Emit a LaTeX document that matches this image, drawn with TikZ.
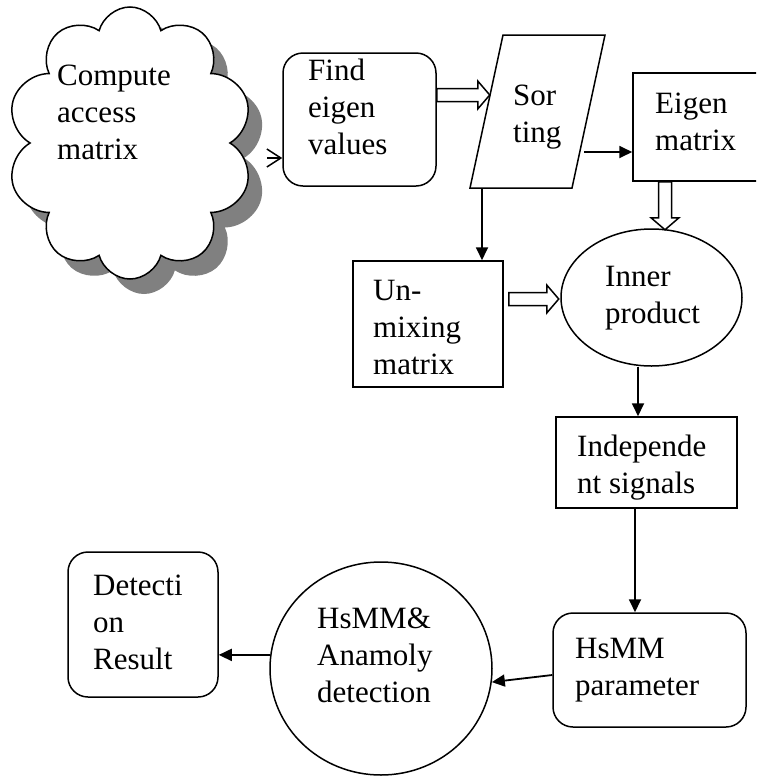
\documentclass[tikz,border=0pt]{standalone}
\usepackage{fontspec}
\setmainfont{Liberation Serif}
\usetikzlibrary{shapes.symbols,shapes.geometric,shadows,arrows.meta,positioning}

\newcommand{\hollowarrow}[1]{\draw[fill=white, line width=1.5pt] (0,-6.5) -- (#1-12,-6.5) -- (#1-12,-14) -- (#1,0) -- (#1-12,14) -- (#1-12,6.5) -- (0,6.5) -- cycle;}

\begin{document}
\begin{tikzpicture}[x=1pt, y=-1pt,
	sbox/.style={draw, fill=white, line width=1.5pt, inner sep=0pt},
	rbox/.style={sbox, rounded corners=20pt},
	oval/.style={sbox, ellipse},
	txt/.style={anchor=base west, align=left, inner sep=0pt, font=\fontsize{31}{37}\selectfont},
	arr/.style={-{Triangle[length=13pt, width=12pt]}, line width=1.8pt}]

	\useasboundingbox (0,0) rectangle (756,777);
	\clip (0,0) rectangle (756,777);

	\node[cloud, cloud puffs=10, cloud puff arc=150, aspect=0.9, sbox, minimum width=246pt, minimum height=272pt,
		drop shadow={shadow xshift=14pt, shadow yshift=-15pt, fill=black!50, opacity=1}] (access) at (130,143) {};

	\node[rbox, minimum width=153pt, minimum height=133pt] (find) at (359.5,119.5) {};

	\coordinate (sortTL) at (503,35);
	\coordinate (sortTR) at (605,35);
	\coordinate (sortBR) at (572,188);
	\coordinate (sortBL) at (470,188);
	\draw[sbox] (sortTL) -- (sortTR) -- (sortBR) -- (sortBL) -- cycle;

	\node[sbox, minimum width=137pt, minimum height=108pt] (eigen) at (701.5,127) {};
	\node[oval, minimum width=181pt, minimum height=137pt] (inner) at (651.5,297.5) {};
	\node[sbox, minimum width=150pt, minimum height=126pt] (unmix) at (428,324) {};
	\node[sbox, minimum width=181pt, minimum height=91pt] (indep) at (646.5,462.5) {};
	\node[rbox, minimum width=193pt, minimum height=114pt] (param) at (649.5,670) {};
	\node[oval, minimum width=222pt, minimum height=213pt] (detect) at (381,668.5) {};
	\node[rbox, minimum width=150pt, minimum height=145pt] (result) at (143,624.5) {};

	% base anchor sits on the last line
	\node[txt] (accesstxt) at (57,159) {Compute\\access\\matrix};
	\node[txt] (findtxt) at (308,154) {Find\\eigen\\values};
	\node[txt] (sorttxt) at (513,142) {Sor\\ting};
	\node[txt] (eigentxt) at (655,150) {Eigen\\matrix};
	\node[txt] (innertxt) at (605,323) {Inner\\product};
	\node[txt] (unmixtxt) at (373,374) {Un-\\mixing\\matrix};
	\node[txt] (indeptxt) at (577,493) {Independe\\nt signals};
	\node[txt] (paramtxt) at (575,695) {HsMM\\parameter};
	\node[txt] (detecttxt) at (317,702) {HsMM\&\\Anamoly\\detection};
	\node[txt] (resulttxt) at (93,669) {Detecti\\on\\Result};

	% only the head shows past the shadow
	\draw[line width=1.5pt, -{Straight Barb[length=14pt, width=18pt]}] ([xshift=-15pt, yshift=-38.5pt]find.west) -- ([yshift=-38.5pt]find.west);

	\begin{scope}[shift={([yshift=24.5pt]find.east)}]
		\hollowarrow{53}
	\end{scope}

	\begin{scope}[shift={([xshift=-36.5pt]eigen.south)}, rotate=-90]
		\hollowarrow{48}
	\end{scope}

	\begin{scope}[shift={([xshift=5pt, yshift=25pt]unmix.east)}]
		\hollowarrow{50}
	\end{scope}

	\draw[arr] ([xshift=-48pt, yshift=-25pt]eigen.west) -- ([yshift=-25pt]eigen.west);
	\draw[arr] ([xshift=54pt]unmix.north |- sortBL) -- ([xshift=54pt]unmix.north);
	\draw[arr] ([xshift=-13.5pt]inner.south) -- ([xshift=-13.5pt]inner.south |- indep.north);
	\draw[arr] ([xshift=-11.5pt]indep.south) -- ([xshift=-11.5pt]indep.south |- param.north);
	\draw[arr] ([yshift=-5pt]param.west) -- (detect.-7);
	\draw[arr] (detect.173) -- (result.east |- detect.173);

\end{tikzpicture}
\end{document}
